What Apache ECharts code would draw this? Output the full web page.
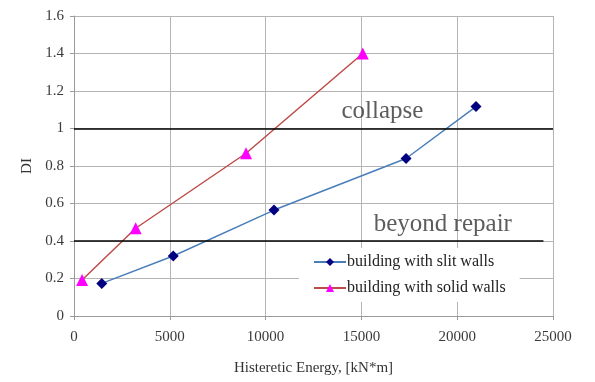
<!DOCTYPE html>
<html>
<head>
<meta charset="utf-8">
<script src="https://cdn.jsdelivr.net/npm/echarts@6/dist/echarts.min.js"></script>
<style>
  html, body { margin: 0; padding: 0; background: #fff; }
  #chart { width: 595px; height: 382px; }
</style>
</head>
<body>
<div id="chart"></div>
<script>
// Damage index versus hysteretic energy for two building types
const slitEnergy = [1450, 5180, 10440, 17330, 20980];
const slitDI     = [0.174, 0.32, 0.565, 0.84, 1.117];
const solidEnergy = [420, 3220, 8980, 15070];
const solidDI     = [0.192, 0.468, 0.868, 1.40];

// Damage state thresholds and their captions
const thresholdLevels = [1.0, 0.4];
const thresholdEnds = [25000, 24500];
const stateNames = ['collapse', 'beyond repair'];
const stateLabelX = [16100, 19250];
const stateLabelY = [1.09, 0.49];

const xTicks = { min: 0, max: 25000, interval: 5000 };
const yTicks = { min: 0, max: 1.6, interval: 0.2 };

const seriesNames = ['building with slit walls', 'building with solid walls'];

const serif = '"Liberation Serif", "Times New Roman", serif';

const zip = (xs, ys) => xs.map((x, i) => [x, ys[i]]);

const chart = echarts.init(document.getElementById('chart'), null, { renderer: 'canvas' });

chart.setOption({
  animation: false,
  backgroundColor: '#ffffff',
  grid: { left: 74, right: 42, top: 16, bottom: 66, containLabel: false },
  xAxis: {
    type: 'value',
    min: xTicks.min, max: xTicks.max, interval: xTicks.interval,
    name: 'Histeretic Energy, [kN*m]',
    nameLocation: 'middle',
    nameGap: 45,
    nameTextStyle: { fontFamily: serif, fontSize: 15, color: '#333' },
    axisLine: { lineStyle: { color: '#9a9a9a', width: 1 } },
    axisTick: { show: true, inside: false, length: 4, lineStyle: { color: '#9a9a9a' } },
    axisLabel: { fontFamily: serif, fontSize: 15, color: '#3a3a3a', margin: 14,
                 formatter: v => String(v) },
    splitLine: { show: true, lineStyle: { color: '#b4b4b4', width: 1 } }
  },
  yAxis: {
    type: 'value',
    min: yTicks.min, max: yTicks.max, interval: yTicks.interval,
    name: 'DI',
    nameLocation: 'middle',
    nameGap: 37,
    nameRotate: 90,
    nameTextStyle: { fontFamily: serif, fontSize: 15, color: '#333' },
    axisLine: { show: true, lineStyle: { color: '#9a9a9a', width: 1 } },
    axisTick: { show: true, inside: false, length: 4, lineStyle: { color: '#9a9a9a' } },
    axisLabel: { fontFamily: serif, fontSize: 15, color: '#3a3a3a', margin: 10,
                 formatter: v => String(Math.round(v * 10) / 10) },
    splitLine: { show: true, lineStyle: { color: '#b4b4b4', width: 1 } }
  },
  legend: {
    data: seriesNames,
    orient: 'vertical',
    left: 299,
    top: 248,
    padding: [6, 14, 6, 14],
    backgroundColor: '#ffffff',
    itemWidth: 32,
    itemHeight: 10,
    itemGap: 10,
    textStyle: { fontFamily: serif, fontSize: 16, color: '#222', padding: [0, 0, 0, -4] }
  },
  series: [
    {
      name: 'thresholds',
      type: 'line',
      data: [],
      silent: true,
      markLine: {
        silent: true,
        symbol: 'none',
        label: { show: false },
        lineStyle: { color: '#000', type: 'solid', width: 1.5 },
        data: thresholdLevels.map((lvl, i) => [
          { coord: [xTicks.min, lvl] },
          { coord: [thresholdEnds[i], lvl] }
        ])
      },
      z: 1
    },
    {
      name: seriesNames[0],
      type: 'line',
      data: zip(slitEnergy, slitDI),
      symbol: 'diamond',
      symbolSize: 11,
      itemStyle: { color: '#000080' },
      lineStyle: { color: '#4a7ebb', width: 1.5 },
      z: 3
    },
    {
      name: seriesNames[1],
      type: 'line',
      data: zip(solidEnergy, solidDI),
      symbol: 'triangle',
      symbolSize: 12,
      itemStyle: { color: '#ff00ff' },
      lineStyle: { color: '#be4b48', width: 1.5 },
      z: 3
    },
    {
      name: 'states',
      type: 'scatter',
      data: zip(stateLabelX, stateLabelY),
      symbolSize: 0,
      silent: true,
      label: {
        show: true,
        position: 'inside',
        formatter: p => stateNames[p.dataIndex],
        fontFamily: serif,
        fontSize: 25,
        color: '#333'
      },
      z: 2
    }
  ]
});
</script>
</body>
</html>
